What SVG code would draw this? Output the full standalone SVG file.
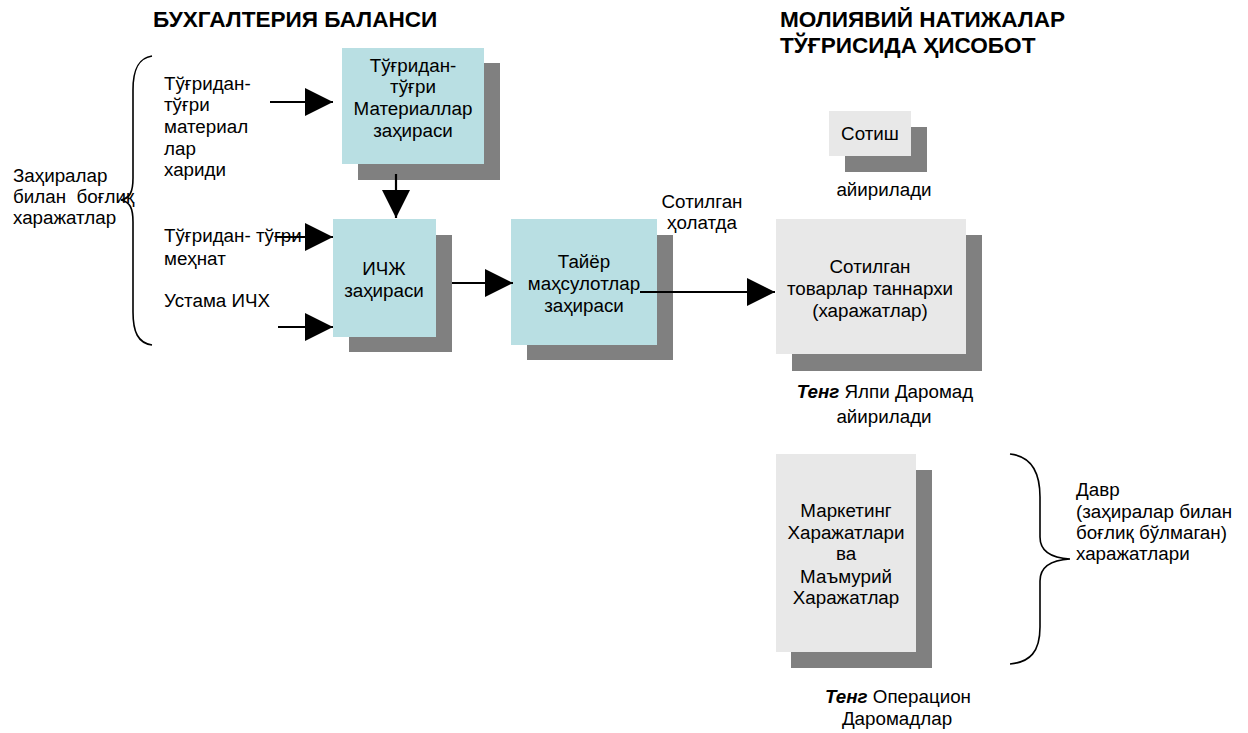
<svg xmlns="http://www.w3.org/2000/svg" width="1248" height="733" viewBox="0 0 1248 733">
  <style>
    text { font-family: "Liberation Sans", Arial, sans-serif; font-size: 18.8px; fill: #000; }
    .title { font-weight: bold; font-size: 22.6px; }
    .c { text-anchor: middle; }
    .shadow { fill: #808080; }
    .inv { fill: #B9DFE3; }
    .pl { fill: #E8E8E8; }
    .brace { fill: none; stroke: #000; stroke-width: 1.6; }
    .conn { fill: none; stroke: #000; stroke-width: 2.2; marker-end: url(#arrow); }
  </style>
  <defs>
    <marker id="arrow" markerUnits="userSpaceOnUse" markerWidth="28" markerHeight="28" refX="28" refY="14" orient="auto">
      <path d="M0,0 L28,14 L0,28 Z" fill="#000"/>
    </marker>
  </defs>
  <rect width="1248" height="733" fill="#fff"/>

  <!-- headings -->
  <text class="title" x="153" y="27">БУХГАЛТЕРИЯ БАЛАНСИ</text>
  <text class="title" x="780" y="27">МОЛИЯВИЙ НАТИЖАЛАР</text>
  <text class="title" x="780" y="53">ТЎҒРИСИДА ҲИСОБОТ</text>

  <!-- inventoriable costs bracket -->
  <g id="inventoriable-costs">
    <path class="brace" d="M152,56 C138,58 133,70 133,90 L133,178 C133,192 130,198 121,200 C130,202 133,208 133,222 L133,312 C133,332 138,343 152,345"/>
    <text x="13" y="182">Заҳиралар</text>
    <text x="13" y="203" xml:space="preserve">билан  боғлиқ</text>
    <text x="13" y="224">харажатлар</text>
  </g>

  <g id="materials-purchases">
    <text x="164" y="90">Тўғридан-</text>
    <text x="164" y="111">тўғри</text>
    <text x="164" y="133">материал</text>
    <text x="164" y="155">лар</text>
    <text x="164" y="176">хариди</text>
  </g>
  <g id="direct-labor">
    <text x="164" y="242">Тўғридан- тўғри</text>
    <text x="164" y="265">меҳнат</text>
  </g>
  <g id="overhead">
    <text x="164" y="307">Устама ИЧХ</text>
  </g>

  <g id="materials-inventory">
    <rect class="shadow" x="358" y="63" width="142" height="117"/>
    <rect class="inv" x="342" y="48" width="142" height="116"/>
    <text class="c" x="413" y="72">Тўғридан-</text>
    <text class="c" x="413" y="93">тўғри</text>
    <text class="c" x="413" y="115">Материаллар</text>
    <text class="c" x="413" y="137">заҳираси</text>
  </g>

  <g id="wip-inventory">
    <rect class="shadow" x="349" y="235" width="103" height="117"/>
    <rect class="inv" x="333" y="219" width="103" height="118"/>
    <text class="c" x="384" y="275">ИЧЖ</text>
    <text class="c" x="384" y="297">заҳираси</text>
  </g>

  <g id="finished-goods">
    <rect class="shadow" x="527" y="235" width="146" height="125"/>
    <rect class="inv" x="511" y="219" width="146" height="126"/>
    <text class="c" x="584" y="268">Тайёр</text>
    <text class="c" x="584" y="290">маҳсулотлар</text>
    <text class="c" x="584" y="312">заҳираси</text>
  </g>

  <g id="when-sold">
    <text class="c" x="702" y="208">Сотилган</text>
    <text class="c" x="702" y="229">ҳолатда</text>
  </g>

  <g id="sales">
    <rect class="shadow" x="845" y="127" width="82" height="45"/>
    <rect class="pl" x="829" y="111" width="82" height="45"/>
    <text class="c" x="870" y="140">Сотиш</text>
  </g>
  <text class="c" x="884" y="196">айирилади</text>

  <g id="cost-of-goods-sold">
    <rect class="shadow" x="792" y="235" width="190" height="136"/>
    <rect class="pl" x="776" y="219" width="190" height="135"/>
    <text class="c" x="870" y="273">Сотилган</text>
    <text class="c" x="870" y="295">товарлар таннархи</text>
    <text class="c" x="870" y="317">(харажатлар)</text>
  </g>

  <g id="gross-margin">
    <text class="c" x="885" y="398"><tspan font-weight="bold" font-style="italic">Тенг</tspan> Ялпи Даромад</text>
    <text class="c" x="884" y="423">айирилади</text>
  </g>

  <g id="marketing-admin">
    <rect class="shadow" x="791" y="470" width="141" height="198"/>
    <rect class="pl" x="776" y="454" width="140" height="198"/>
    <text class="c" x="846" y="517">Маркетинг</text>
    <text class="c" x="846" y="539">Харажатлари</text>
    <text class="c" x="846" y="560">ва</text>
    <text class="c" x="846" y="583">Маъмурий</text>
    <text class="c" x="846" y="604">Харажатлар</text>
  </g>

  <g id="period-costs">
    <path class="brace" d="M1010,454 C1030,456 1040,470 1040,497 L1040,537 C1040,552 1052,558 1070,559 C1052,560 1040,566 1040,581 L1040,627 C1040,652 1030,662 1010,664"/>
    <text x="1076" y="496">Давр</text>
    <text x="1076" y="518">(заҳиралар билан</text>
    <text x="1076" y="539">боғлиқ бўлмаган)</text>
    <text x="1076" y="560">харажатлари</text>
  </g>

  <g id="operating-income">
    <text class="c" x="898" y="703"><tspan font-weight="bold" font-style="italic">Тенг</tspan> Операцион</text>
    <text class="c" x="897" y="725">Даромадлар</text>
  </g>

  <!-- flow arrows -->
  <g id="connectors">
    <line class="conn" x1="270" y1="102" x2="333" y2="102"/>
    <line class="conn" x1="396" y1="174" x2="396" y2="218"/>
    <line class="conn" x1="277" y1="237" x2="333" y2="237"/>
    <line class="conn" x1="278" y1="327" x2="333" y2="327"/>
    <line class="conn" x1="452" y1="283" x2="513" y2="283"/>
    <line class="conn" x1="640" y1="292" x2="775" y2="292"/>
  </g>
</svg>
